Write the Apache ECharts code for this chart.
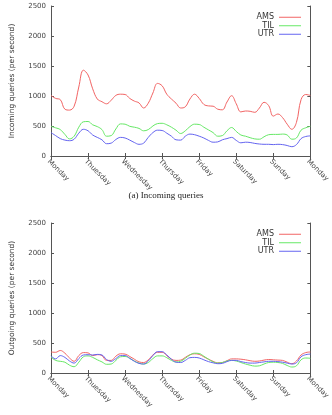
<!DOCTYPE html>
<html>
<head>
<meta charset="utf-8">
<script src="https://cdn.jsdelivr.net/npm/echarts@6/dist/echarts.min.js"></script>
<style>
    html, body { margin: 0; padding: 0; background: #fff; }
    #chart { width: 332px; height: 415px; }
</style>
</head>
<body>
<div id="chart"></div>
<script>
    // day ticks (gnuplot original keeps the "Thuesday" typo)
    var dayLabels = ['Monday', 'Thuesday', 'Wednesday', 'Thursday', 'Friday', 'Saturday', 'Sunday', 'Monday'];
    var seriesNames = ['AMS', 'TIL', 'UTR'];
    var yTicks = [0, 500, 1000, 1500, 2000, 2500];

    // one sample every 3 hours, Monday 00h .. next Monday 00h
    var slots = [];
    for (var d = 0; d < 7; d++) {
        for (var h = 0; h < 24; h += 3) slots.push(dayLabels[d] + ' ' + h + 'h');
    }
    slots.push(dayLabels[7] + ' 0h');

    // (a) incoming queries
    var amsIn = [1010,960,940,780,765,830,1150,1430,1350,1120,950,905,870,930,1010,1030,1025,960,915,885,800,880,1050,1210,1170,1030,950,880,800,820,950,1030,960,860,835,830,780,770,900,1005,870,735,750,745,728,800,895,840,665,700,640,530,445,560,940,1025,1010];
    var tilIn = [495,470,440,360,285,330,480,570,575,520,490,440,330,340,450,535,530,495,480,460,420,440,500,540,545,520,480,430,375,420,490,530,525,480,435,390,330,340,420,475,410,350,330,305,285,280,320,355,360,360,365,350,280,300,430,470,495];
    var utrIn = [390,340,290,265,255,280,380,445,420,350,310,270,205,215,275,310,300,265,225,195,215,310,390,430,425,380,330,270,265,330,365,355,330,300,260,230,235,270,290,310,260,220,230,225,210,200,195,195,190,195,190,175,155,190,290,325,335];

    // (b) outgoing queries
    var amsOut = [350,345,375,330,250,195,290,340,335,290,305,290,210,210,280,320,315,275,230,185,175,220,300,345,345,290,230,210,215,260,305,320,310,270,230,195,170,175,205,235,235,230,220,205,195,200,215,225,220,215,210,180,155,200,300,340,350];
    var tilOut = [265,210,195,180,130,105,180,270,285,260,220,185,145,150,210,270,275,245,200,165,150,175,240,285,285,255,210,185,195,245,300,330,325,280,230,185,165,175,200,210,200,175,150,130,115,120,150,175,180,175,160,125,100,120,220,250,245];
    var utrOut = [285,235,290,260,200,165,240,300,305,300,310,300,225,195,240,290,290,245,195,160,150,200,290,355,355,300,230,180,175,210,255,260,250,220,190,170,155,160,190,210,210,190,175,165,165,175,185,195,195,190,180,165,150,170,270,305,315];

    var colors = ['#f26464', '#66e866', '#6464f0'];
    var axisColor = '#555';
    var font = 'DejaVu Sans';

    function xAxes(gridIndex) {
        return [
            {
                gridIndex: gridIndex, type: 'category', data: slots, boundaryGap: false,
                axisLine: {lineStyle: {color: axisColor, width: 1}},
                axisTick: {inside: true, interval: 7, length: 3, lineStyle: {color: axisColor}},
                axisLabel: {
                    interval: 7, rotate: -45, fontSize: 7, fontFamily: font, color: '#444', margin: 2,
                    align: 'left', verticalAlign: 'top',
                    formatter: function (v, i) { return dayLabels[Math.round(i / 8)]; }
                },
                splitLine: {show: false}
            },
            {
                gridIndex: gridIndex, type: 'category', data: slots, boundaryGap: false, position: 'top',
                axisLine: {lineStyle: {color: axisColor, width: 1}},
                axisTick: {inside: true, interval: 7, length: 3, lineStyle: {color: axisColor}},
                axisLabel: {show: false}
            }
        ];
    }

    function yAxes(gridIndex, title) {
        var base = {
            gridIndex: gridIndex, type: 'value', min: yTicks[0], max: yTicks[yTicks.length - 1], interval: 500,
            axisLine: {show: true, lineStyle: {color: axisColor, width: 1}},
            axisTick: {show: true, inside: true, length: 3, lineStyle: {color: axisColor}},
            splitLine: {show: false}
        };
        return [
            Object.assign({}, base, {
                position: 'left', name: title, nameLocation: 'middle', nameGap: 35, nameRotate: 90,
                nameTextStyle: {fontSize: 7.5, fontFamily: font, color: '#333'},
                axisLabel: {
                    fontSize: 7, fontFamily: font, color: '#444', margin: 5,
                    formatter: function (v) { return String(v); }
                }
            }),
            Object.assign({}, base, {position: 'right', axisLabel: {show: false}})
        ];
    }

    function lines(data, xi, yi) {
        return data.map(function (vals, k) {
            return {
                name: seriesNames[k], type: 'line', data: vals, xAxisIndex: xi, yAxisIndex: yi,
                smooth: 0.4, symbol: 'none', lineStyle: {width: 1, color: colors[k]},
                itemStyle: {color: colors[k]}, animation: false
            };
        });
    }

    function legend(top) {
        return {
            orient: 'vertical', right: 26, top: top, align: 'right',
            icon: 'rect', itemWidth: 22, itemHeight: 1, itemGap: 0,
            data: seriesNames,
            textStyle: {fontSize: 8, fontFamily: font, color: '#333', lineHeight: 8.5, padding: [0, 0, 0, 0]},
            selectedMode: false
        };
    }

    var myChart = echarts.init(document.getElementById('chart'), null, {renderer: 'canvas'});
    myChart.setOption({
        backgroundColor: '#fff',
        animation: false,
        grid: [
            {left: 41, right: 16, top: 6, height: 150},
            {left: 41, right: 16, top: 223, height: 150}
        ],
        legend: [legend(8), legend(225)],
        xAxis: xAxes(0).concat(xAxes(1)),
        yAxis: yAxes(0, 'Incoming queries (per second)').concat(yAxes(1, 'Outgoing queries (per second)')),
        graphic: [
            {
                type: 'text', left: 'center', top: 191,
                style: {text: '(a) Incoming queries', font: '9px "Liberation Serif"', fill: '#222'}
            }
        ],
        series: lines([amsIn, tilIn, utrIn], 0, 0).concat(lines([amsOut, tilOut, utrOut], 2, 2))
    });
</script>
</body>
</html>
